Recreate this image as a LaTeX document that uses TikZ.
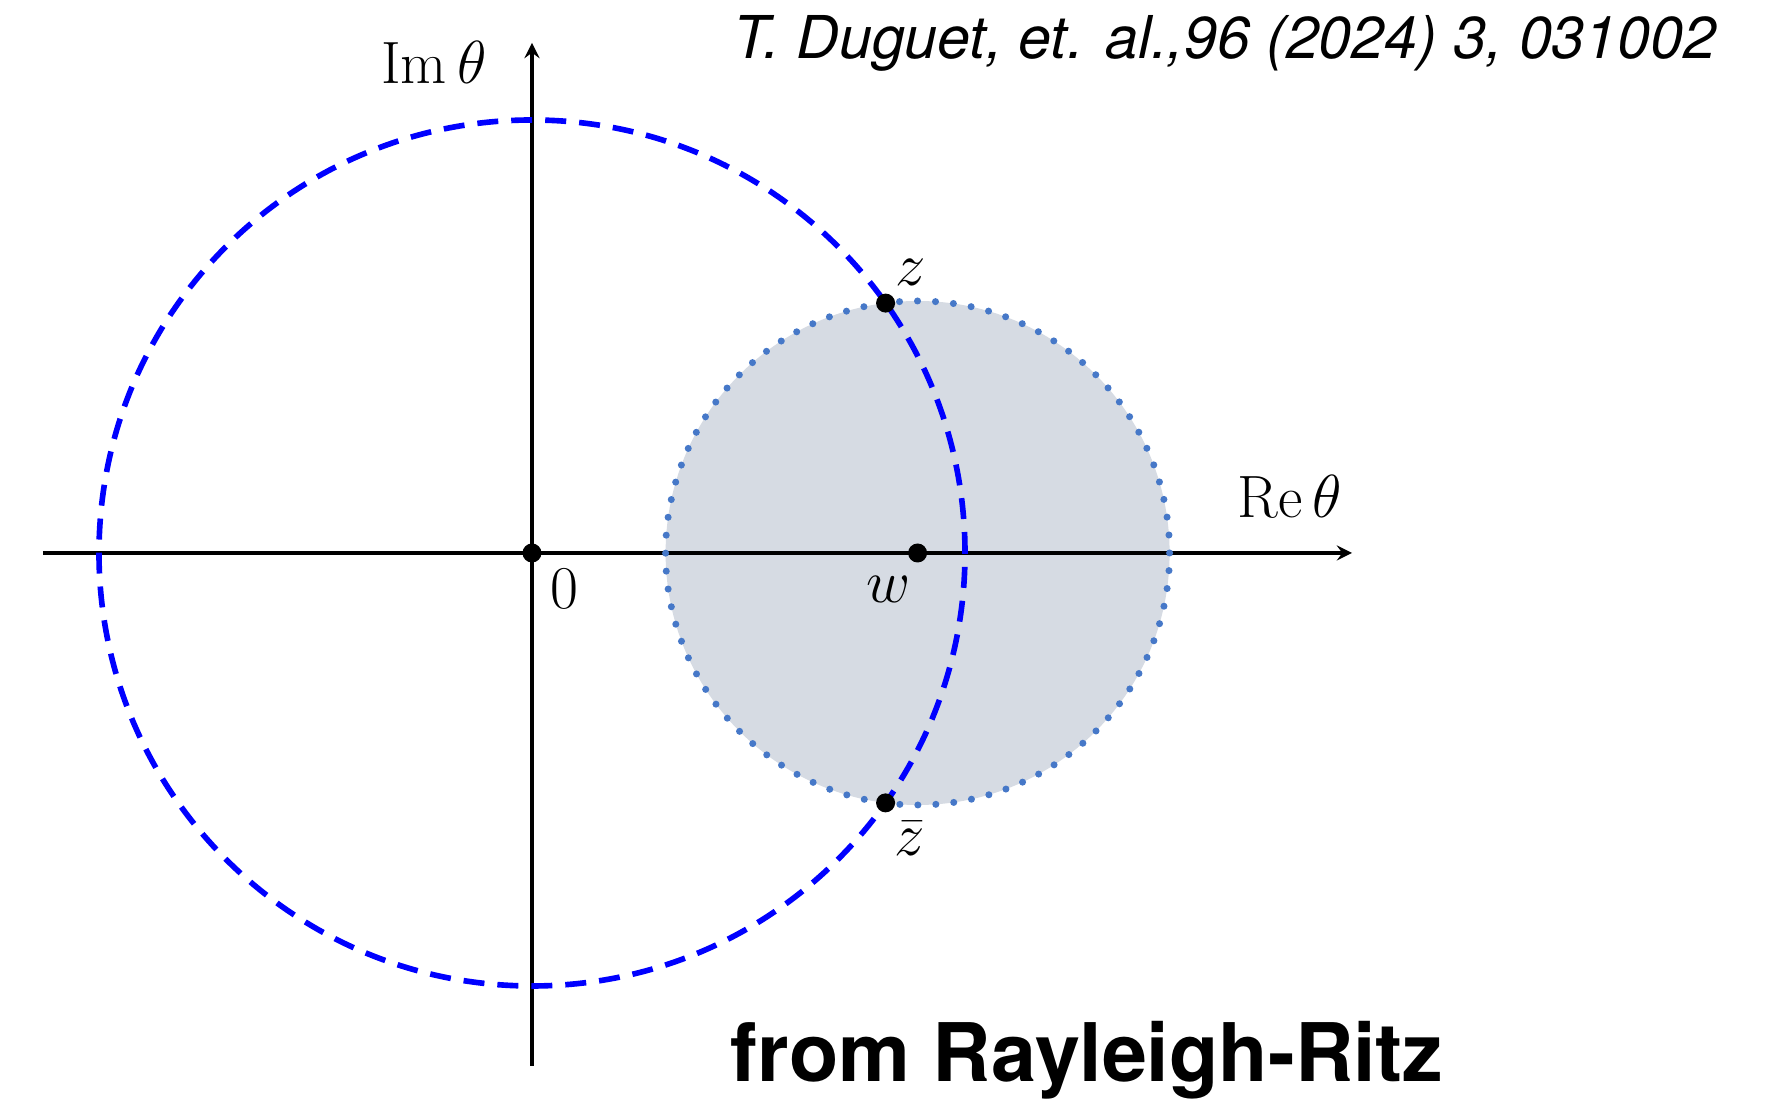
\documentclass[tikz,border=0pt]{standalone}
\usepackage{amsmath}
\usepackage{fontspec}
\setsansfont{TeX Gyre Heros}
\usepackage{tikz}
\usetikzlibrary{arrows, positioning, calc}
\definecolor{discfill}{RGB}{214,219,227}
\definecolor{discedge}{RGB}{70,120,200}
\tikzstyle{axis} = [line width=0.9pt,->,>=stealth]
\tikzstyle{pt} = [circle, fill=black, inner sep=0pt, minimum size=0.19cm]
\tikzstyle{mathlbl} = [font=\fontsize{17}{20}\selectfont, inner sep=0pt]
\tikzstyle{bigcirc} = [blue, line width=1.6pt, dash pattern=on 0.21cm off 0.13cm]
\tikzstyle{disc} = [draw=discedge, line width=2pt, line cap=round, dash pattern=on 0pt off 0.18cm]

\begin{document}
\begin{tikzpicture}

\useasboundingbox (-5.32,-5.51) rectangle (12.46,5.53);

% Disc around w
\coordinate (w0) at (3.856,0);
\fill [discfill] (w0) circle (2.52);

% Axes
\coordinate (xl) at (-4.89,0);
\coordinate (xr) at (8.20,0);
\coordinate (yb) at (0,-5.13);
\coordinate (yt) at (0,5.10);
\draw [axis] (xl) -- (xr);
\draw [axis] (yb) -- (yt);

% Circles
\draw [disc] (w0) circle (2.52);
\draw [bigcirc] (0,0) circle (4.33);

% Points
\node (orig) [pt] at (0,0) {};
\node (w) [pt] at (w0) {};
\node (z) [pt] at (35.25:4.33) {};
\node (zb) [pt] at (-35.25:4.33) {};

% Labels
\node (im) [mathlbl] at (-0.98,4.91) {$\operatorname{Im}\theta$};
\node (re) [mathlbl] at (7.58,0.56) {$\operatorname{Re}\theta$};
\node (zero) [mathlbl] at (0.32,-0.36) {$0$};
\node (wl) [mathlbl] at (3.57,-0.36) {$w$};
\node (zl) [mathlbl] at ($(z)+(0.25,0.31)$) {$z$};
\node (zbl) [mathlbl] at ($(zb)+(0.24,-0.36)$) {$\bar{z}$};

% Texts
\node (ref) [font=\sffamily\itshape\fontsize{16.8}{20}\selectfont, inner sep=0pt] at (6.93,5.10) {T. Duguet, et. al.,96 (2024) 3, 031002};
\node (src) [font=\sffamily\bfseries\fontsize{23}{26}\selectfont, inner sep=0pt] at (5.55,-5.07) {from Rayleigh-Ritz};

\end{tikzpicture}
\end{document}
